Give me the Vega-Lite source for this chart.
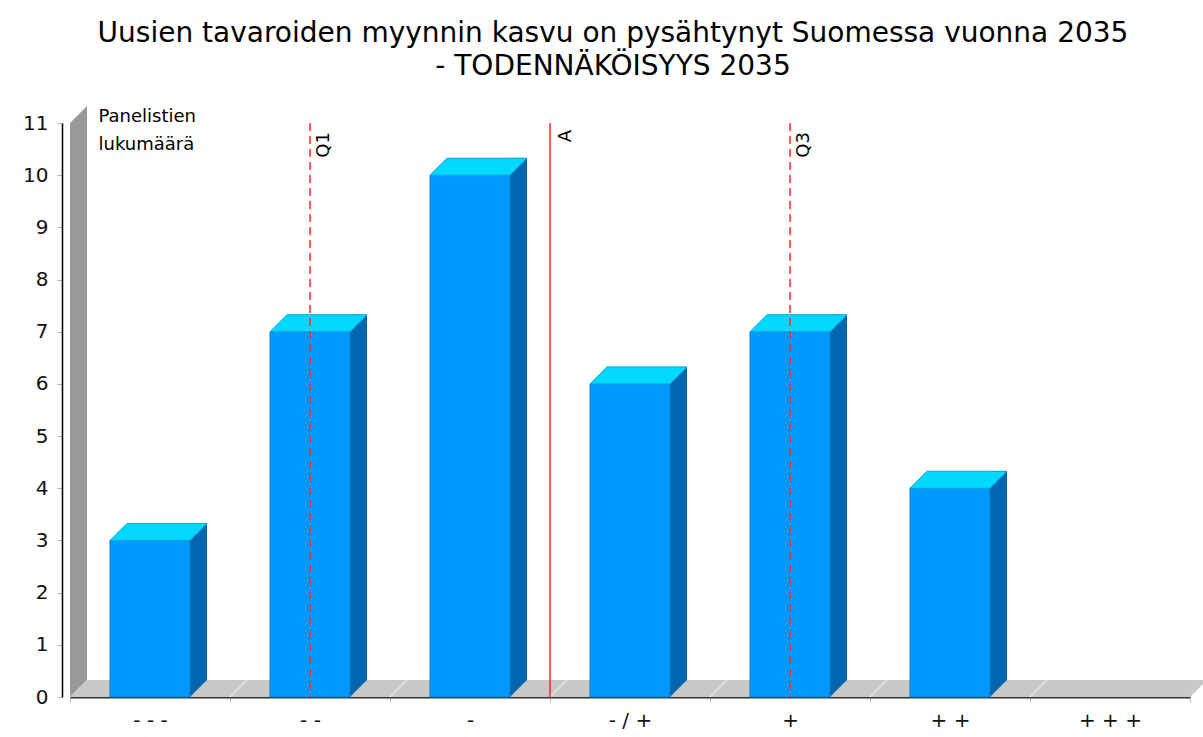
{
  "$schema": "https://vega.github.io/schema/vega-lite/v6.json",
  "width": 1120,
  "height": 574,
  "autosize": "none",
  "padding": {"left": 70, "top": 123, "right": 13, "bottom": 40},
  "background": "white",
  "config": {"view": {"stroke": null}},
  "title": {
    "text": ["Uusien tavaroiden myynnin kasvu on pysähtynyt Suomessa vuonna 2035", "- TODENNÄKÖISYYS 2035"],
    "font": "DejaVu Sans",
    "fontSize": 28,
    "fontWeight": "normal",
    "color": "#000000",
    "anchor": "middle",
    "baseline": "alphabetic",
    "dx": -17,
    "dy": 23,
    "offset": 26,
    "lineHeight": 33
  },
  "datasets": {
    "bars": [
      {"cat": "- - -", "v": 3},
      {"cat": "- -", "v": 7},
      {"cat": "-", "v": 10},
      {"cat": "- / +", "v": 6},
      {"cat": "+", "v": 7},
      {"cat": "+ +", "v": 4},
      {"cat": "+ + +", "v": 0}
    ],
    "anchor": [{"cat": "- - -", "v": 0}],
    "diag": [
      {"cat": "- -", "v": 0},
      {"cat": "-", "v": 0},
      {"cat": "- / +", "v": 0},
      {"cat": "+", "v": 0},
      {"cat": "+ +", "v": 0},
      {"cat": "+ + +", "v": 0}
    ],
    "quart": [
      {"cat": "- -", "label": "Q1", "v": 11},
      {"cat": "+", "label": "Q3", "v": 11}
    ],
    "avg": [{"cat": "- / +", "label": "A", "v": 11}]
  },
  "encoding": {
    "x": {
      "field": "cat",
      "type": "nominal",
      "sort": null,
      "scale": {"domain": ["- - -", "- -", "-", "- / +", "+", "+ +", "+ + +"], "paddingInner": 0, "paddingOuter": 0},
      "axis": {
        "title": null,
        "tickBand": "extent",
        "labelAngle": 0,
        "labelFont": "DejaVu Sans",
        "labelFontSize": 20,
        "labelColor": "#111111",
        "labelPadding": 8,
        "domainColor": "#333333",
        "domainWidth": 2,
        "tickColor": "#bbbbbb",
        "tickSize": 5,
        "grid": false
      }
    },
    "y": {
      "type": "quantitative",
      "scale": {"domain": [0, 11], "nice": false},
      "axis": {
        "values": [0, 1, 2, 3, 4, 5, 6, 7, 8, 9, 10, 11],
        "offset": 8,
        "grid": false,
        "domainColor": "#000000",
        "domainWidth": 1.5,
        "tickColor": "#bbbbbb",
        "tickSize": 5,
        "labelFont": "DejaVu Sans",
        "labelFontSize": 20,
        "labelColor": "#111111",
        "labelPadding": 9,
        "title": ["Panelistien", "lukumäärä"],
        "titleAngle": 0,
        "titleAlign": "left",
        "titleBaseline": "alphabetic",
        "titleX": 36,
        "titleY": -2,
        "titleFont": "DejaVu Sans",
        "titleFontSize": 18,
        "titleFontWeight": "normal",
        "titleColor": "#000000",
        "titleLineHeight": 28
      }
    }
  },
  "layer": [
    {
      "data": {"name": "anchor"},
      "mark": {"type": "point", "shape": "M0,0L0,-574L17,-591L17,-17Z", "size": 4, "filled": true, "color": "#999999", "opacity": 1, "strokeWidth": 0},
      "encoding": {"x": {"field": "cat", "bandPosition": 0}, "y": {"field": "v"}}
    },
    {
      "data": {"name": "anchor"},
      "mark": {"type": "point", "shape": "M0,0L1120,0L1137,-17L17,-17Z", "size": 4, "filled": true, "color": "#c8c8c8", "opacity": 1, "strokeWidth": 0},
      "encoding": {"x": {"field": "cat", "bandPosition": 0}, "y": {"field": "v"}}
    },
    {
      "data": {"name": "diag"},
      "mark": {"type": "point", "shape": "M0,0L17,-17", "size": 4, "filled": false, "stroke": "#e6e6e6", "strokeWidth": 1.5, "opacity": 1},
      "encoding": {"x": {"field": "cat", "bandPosition": 0}, "y": {"field": "v"}}
    },
    {
      "data": {"name": "bars"},
      "transform": [{"filter": "datum.v > 0"}],
      "mark": {"type": "bar", "width": 17, "xOffset": 48.5, "yOffset": -17, "y2Offset": -17, "color": "#0066b0"},
      "encoding": {"y": {"field": "v"}, "y2": {"datum": 0}}
    },
    {
      "data": {"name": "bars"},
      "transform": [{"filter": "datum.v > 0"}],
      "mark": {"type": "point", "shape": "M40,0L40,-17L57,-17Z", "size": 4, "filled": true, "color": "#0066b0", "opacity": 1, "strokeWidth": 0},
      "encoding": {"x": {"field": "cat", "bandPosition": 0.5}, "y": {"datum": 0}}
    },
    {
      "data": {"name": "bars"},
      "transform": [{"filter": "datum.v > 0"}],
      "mark": {"type": "bar", "width": {"band": 0.5}, "color": "#0099ff", "stroke": "#0080cc", "strokeWidth": 1},
      "encoding": {"y": {"field": "v"}, "y2": {"datum": 0}}
    },
    {
      "data": {"name": "bars"},
      "transform": [{"filter": "datum.v > 0"}],
      "mark": {"type": "point", "shape": "M-40,0L40,0L57,-17L-23,-17Z", "size": 4, "filled": true, "color": "#00d8ff", "opacity": 1, "stroke": "#00a8d8", "strokeWidth": 1},
      "encoding": {"x": {"field": "cat", "bandPosition": 0.5}, "y": {"field": "v"}}
    },
    {
      "data": {"name": "quart"},
      "mark": {"type": "rule", "color": "#ff2a2a", "strokeWidth": 1.5, "strokeDash": [8, 5]},
      "encoding": {"x": {"field": "cat", "bandPosition": 0.5}, "y": {"field": "v"}, "y2": {"datum": 0}}
    },
    {
      "data": {"name": "avg"},
      "mark": {"type": "rule", "color": "#ff2a2a", "strokeWidth": 1.5},
      "encoding": {"x": {"field": "cat", "bandPosition": 0}, "y": {"field": "v"}, "y2": {"datum": 0}}
    },
    {
      "data": {"name": "quart"},
      "mark": {"type": "text", "angle": 270, "align": "right", "baseline": "top", "font": "DejaVu Sans", "fontSize": 18, "color": "#000000", "xOffset": 5, "yOffset": 9},
      "encoding": {"x": {"field": "cat", "bandPosition": 0.5}, "y": {"field": "v"}, "text": {"field": "label"}}
    },
    {
      "data": {"name": "avg"},
      "mark": {"type": "text", "angle": 270, "align": "right", "baseline": "top", "font": "DejaVu Sans", "fontSize": 18, "color": "#000000", "xOffset": 7, "yOffset": 7},
      "encoding": {"x": {"field": "cat", "bandPosition": 0}, "y": {"field": "v"}, "text": {"field": "label"}}
    }
  ]
}
